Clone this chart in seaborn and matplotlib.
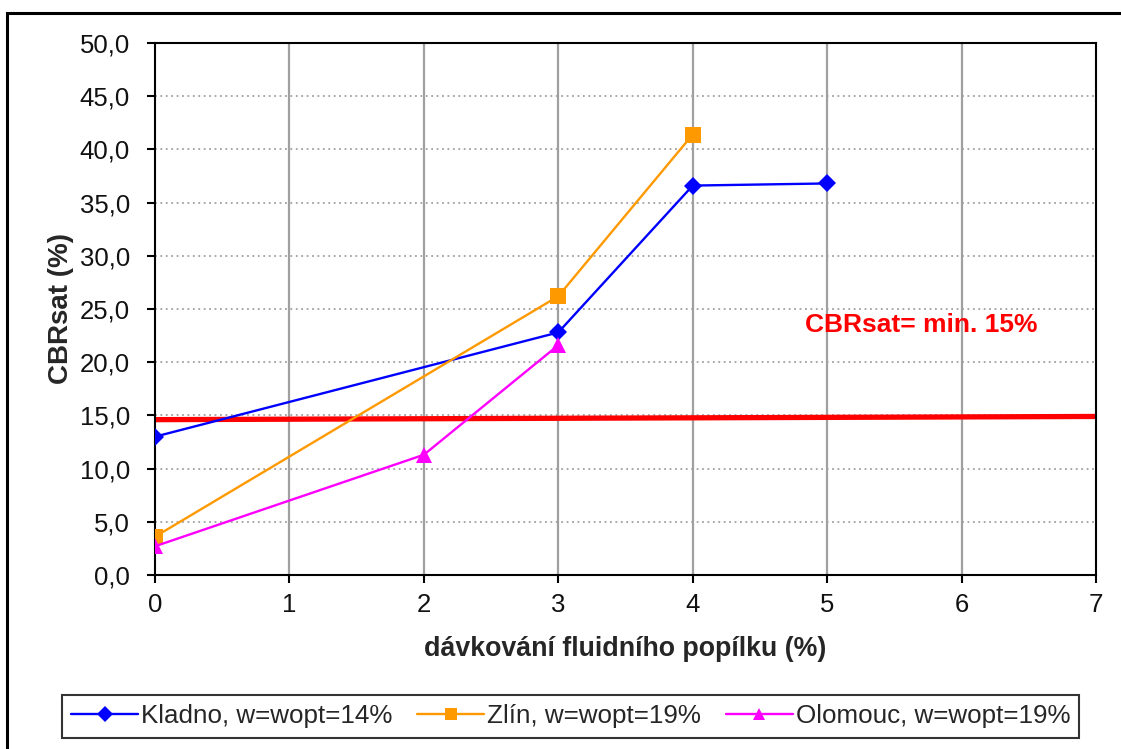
import numpy as np
import pandas as pd
import matplotlib
matplotlib.use("Agg")
import matplotlib.pyplot as plt
from matplotlib.ticker import FuncFormatter, MultipleLocator
from matplotlib.patches import Rectangle
import seaborn as sns

# ---- data ----
kladno_x = [0, 3, 4, 5]
kladno_y = [13.0, 22.8, 36.6, 36.8]
zlin_x = [0, 3, 4]
zlin_y = [3.6, 26.2, 41.4]
olomouc_x = [0, 2, 3]
olomouc_y = [2.7, 11.3, 21.6]
limit_x = [0, 7]
limit_y = [14.6, 14.9]
series_names = ["Kladno, w=wopt=14%", "Zlín, w=wopt=19%", "Olomouc, w=wopt=19%"]
limit_label = "CBRsat= min. 15%"
x_label = "dávkování fluidního popílku (%)"
y_label = "CBRsat (%)"

df = pd.concat([
    pd.DataFrame({"x": kladno_x, "y": kladno_y, "s": series_names[0]}),
    pd.DataFrame({"x": zlin_x, "y": zlin_y, "s": series_names[1]}),
    pd.DataFrame({"x": olomouc_x, "y": olomouc_y, "s": series_names[2]}),
], ignore_index=True)

sns.set_theme(style="white")
plt.rcParams["font.family"] = ["Liberation Sans", "DejaVu Sans"]

W, H = 1121, 749
fig = plt.figure(figsize=(W / 100, H / 100), dpi=100)
ax = fig.add_axes([155 / W, 1 - 575 / H, (1096 - 155) / W, (575 - 43) / H])

palette = {series_names[0]: "#0000FF", series_names[1]: "#FF9900", series_names[2]: "#FF00FF"}
markers = {series_names[0]: "D", series_names[1]: "s", series_names[2]: "^"}

# grid
ax.set_xlim(0, 7)
ax.set_ylim(0, 50)
ax.xaxis.set_major_locator(MultipleLocator(1))
ax.yaxis.set_major_locator(MultipleLocator(5))
ax.grid(False)
for xv in range(1, 7):
    ax.axvline(xv, color="#a0a0a0", lw=1.6, zorder=0)
for yv in range(5, 50, 5):
    ax.axhline(yv, color="#a0a0a0", lw=1.3, ls=(0, (1, 2)), zorder=0)

# limit line
ax.plot(limit_x, limit_y, color="#FF0000", lw=3.8, zorder=2, solid_capstyle="butt")

sns.lineplot(data=df, x="x", y="y", hue="s", style="s", palette=palette,
             markers=markers, dashes=False, lw=1.7, markersize=11,
             markeredgewidth=0, ax=ax, zorder=3, legend=True)
for ln in ax.get_lines():
    if ln.get_marker() == "D":
        ln.set_markersize(9.5)

ax.text(5.70, 23.5, limit_label, color="#FF0000", fontsize=19, fontweight="bold",
        ha="center", va="center")

for sp in ax.spines.values():
    sp.set_color("black")
    sp.set_linewidth(1.5)
    sp.set_visible(True)

ax.tick_params(axis="both", which="major", direction="out", length=6, width=1.5,
               color="black", labelsize=18.5, labelcolor="#111111", pad=7,
               bottom=True, left=True)
ax.tick_params(axis="y", pad=12)
ax.yaxis.set_major_formatter(FuncFormatter(lambda v, p: f"{v:.1f}".replace(".", ",")))
ax.xaxis.set_major_formatter(FuncFormatter(lambda v, p: f"{int(v)}"))

ax.set_xlabel(x_label, fontsize=19.3, fontweight="bold", labelpad=14)
ax.set_ylabel(y_label, fontsize=20, fontweight="bold", labelpad=4)

# legend
handles, labels = ax.get_legend_handles_labels()
ax.get_legend().remove()
leg = fig.legend(handles, labels, loc="center", bbox_to_anchor=(570.5 / W, 1 - 716.5 / H),
                 ncol=3, frameon=True, fancybox=False, fontsize=18.7,
                 handlelength=2.6, handletextpad=0.1, columnspacing=0.95,
                 borderpad=0.35, edgecolor="black")
leg.get_frame().set_linewidth(1.5)
for h in leg.legend_handles:
    try:
        h.set_markersize(8.5)
    except Exception:
        pass

# outer frame
fig.patches.append(Rectangle((7 / W, -0.1), 1.0, 1 - 13 / H + 0.1, transform=fig.transFigure,
                             fill=False, edgecolor="black", lw=2.2, zorder=10))

fig.savefig("out.png", dpi=100, facecolor="white")
